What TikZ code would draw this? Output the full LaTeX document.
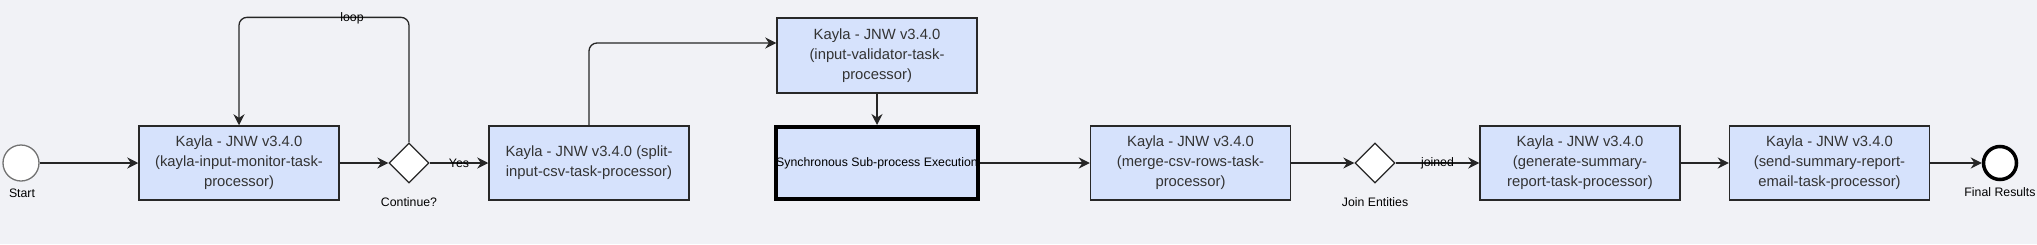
\documentclass[tikz,border=0pt]{standalone}
\usepackage{fontspec}
\setmainfont{Liberation Sans}
\usepackage{tikz}
\usetikzlibrary{positioning}
\usetikzlibrary{shapes.geometric}
\usetikzlibrary{arrows.meta}
\usepackage{xcolor}
\definecolor{bgcol}{RGB}{241,242,246}
\definecolor{taskfill}{RGB}{214,226,252}
\definecolor{taskline}{RGB}{40,40,40}
\definecolor{tasktext}{RGB}{51,51,51}

\begin{document}
\begin{tikzpicture}[x=1pt,y=-1pt,
    task/.style={draw=taskline, line width=1.5pt, fill=taskfill, minimum width=200pt, minimum height=74pt,
                 align=center, text=tasktext, font=\fontsize{14.8}{20}\selectfont, inner sep=0pt},
    gate/.style={diamond, draw=black!85, line width=1.3pt, fill=white, minimum width=40pt, minimum height=40pt, inner sep=0pt},
    lbl/.style={font=\fontsize{12.3}{14}\selectfont, inner sep=0pt},
    flow/.style={draw=black!85, line width=1.3pt, -{Stealth[length=11pt,width=11pt]}}]
    % Background
    \fill[bgcol] (0,0) rectangle (2037,244);
    \useasboundingbox (0,0) rectangle (2037,244);

    % Start and first task
    \node[circle, draw=black!55, line width=1.3pt, fill=white, minimum size=36pt] (start) at (21,163) {};
    \node[lbl] (startlbl) at (22,193) {Start};
    \node[task] (monitor) at (239,163) {Kayla - JNW v3.4.0\\(kayla-input-monitor-task-\\processor)};
    \node[gate] (cont) at (409,163) {};
    \node[lbl] (contlbl) at (409,202) {Continue?};

    % Split and validation
    \node[task] (split) at (589,163) {Kayla - JNW v3.4.0 (split-\\input-csv-task-processor)};
    \node[task, minimum height=75pt] (valid) at (877,55.5) {Kayla - JNW v3.4.0\\(input-validator-task-\\processor)};
    \node[draw=black, line width=4pt, fill=taskfill, minimum width=198pt, minimum height=72pt, inner sep=0pt,
          font=\fontsize{12.3}{14}\selectfont] (subproc) at (877,163) {Synchronous Sub-process Execution};

    % Merge and join
    \node[task] (merge) at (1190.5,163) {Kayla - JNW v3.4.0\\(merge-csv-rows-task-\\processor)};
    \node[gate] (join) at (1375,163) {};
    \node[lbl] (joinlbl) at (1375,202) {Join Entities};

    % Report tasks and end
    \node[task] (report) at (1580,163) {Kayla - JNW v3.4.0\\(generate-summary-\\report-task-processor)};
    \node[task] (email) at (1829.5,163) {Kayla - JNW v3.4.0\\(send-summary-report-\\email-task-processor)};
    \node[circle, draw=black, line width=3.5pt, fill=white, minimum size=33pt] (finish) at (2000,163) {};
    \node[lbl] (finishlbl) at (2000,192) {Final Results};

    % Connectors
    \draw[flow] (start) -- (monitor);
    \draw[flow] (monitor) -- (cont);
    \draw[flow, rounded corners=8pt] (cont.north) -- ++(0,-125) -| (monitor.north);
    \node[lbl] (looplbl) at (352,18) {loop};
    \draw[flow] (cont) -- node[lbl] {Yes} (split);
    \draw[flow, rounded corners=8pt] (split.north) |- (valid.west |- 0,43);
    \draw[flow] (valid) -- (subproc);
    \draw[flow] (subproc) -- (merge);
    \draw[flow] (merge) -- (join);
    \draw[flow] (join) -- node[lbl] {joined} (report);
    \draw[flow] (report) -- (email);
    \draw[flow] (email) -- (finish);
\end{tikzpicture}
\end{document}
